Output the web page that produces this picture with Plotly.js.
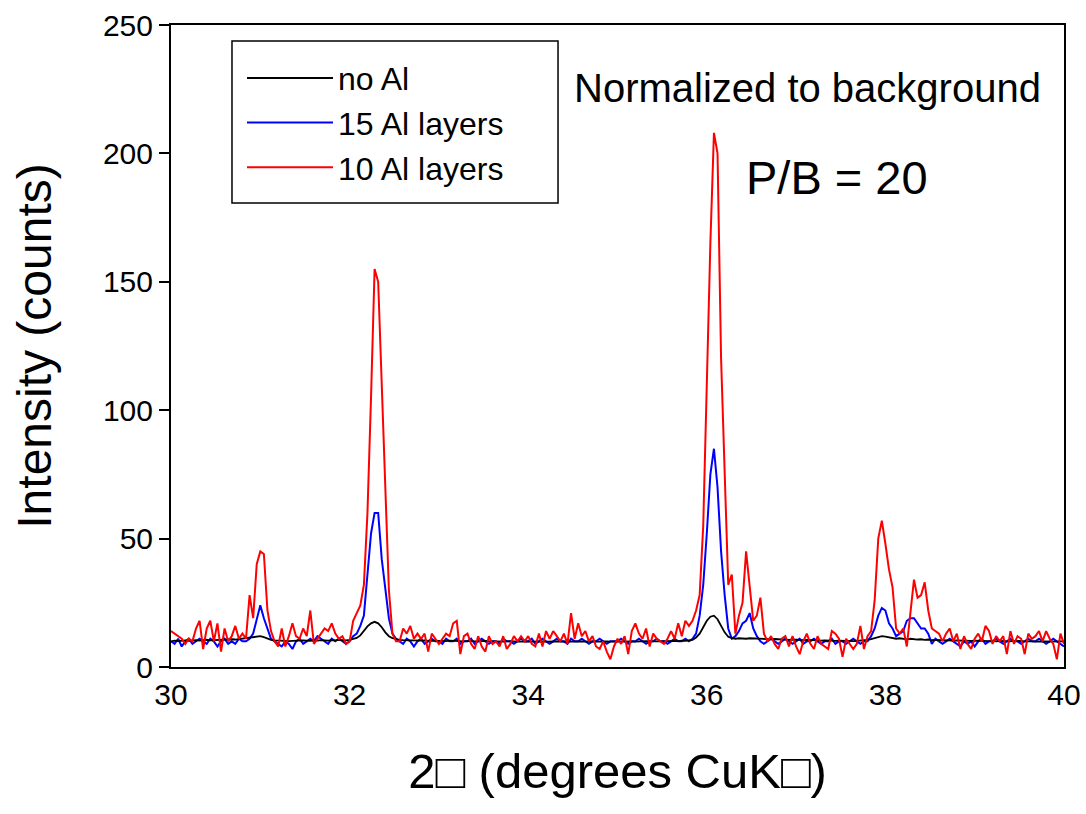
<!DOCTYPE html>
<html><head><meta charset="utf-8">
<script src="https://cdn.plot.ly/plotly-3.0.1.min.js"></script>
<style>html,body{margin:0;padding:0;background:#fff}#chart{width:1086px;height:814px}</style>
</head><body><div id="chart"></div>
<script>
// sampling grid: 2-theta from 30 to 40 deg, step 0.04
const startAngle = 30;
const stepAngle = 0.04;

const seriesNames = ["no Al", "15 Al layers", "10 Al layers"];
const seriesColors = ["#000000", "#0000ff", "#ff0000"];

const noAl = [
  10,10.3,10.1,10.2,10.4,10.2,10.3,10.5,10.3,10.4,10.6,10.4,10.5,10.6,10.5,10.7,10.6,10.8,10.7,10.9,11,11.2,11.5,11.8,12,
  12,11.6,11,10.6,10.4,10.3,10.2,10.3,10.1,10.2,10.3,10.2,10.4,10.3,10.2,10.4,10.3,10.5,10.4,10.3,10.5,10.4,10.6,10.5,10.4,
  10.6,11,11.3,12.3,14,15.8,17,17.6,17,15.5,13.5,12,11.2,10.8,10.6,10.5,10.4,10.5,10.3,10.4,10.3,10.4,10.2,10.3,10.2,
  10.3,10.2,10.1,10.3,10.2,10.1,10.2,10,10.1,10.2,10,10.1,10,10.2,10.1,10,10.1,10,9.9,10,10.1,10,9.9,10,10.1,
  10,9.9,10,10.1,10,9.9,10,10.1,10,9.9,10,10,9.9,10,10.1,10,9.9,10,10,9.9,10,10.1,10,9.9,10,
  10,9.9,10,10.1,10,9.9,10,10,10.1,10,9.9,10,10,10.1,10,10.1,10.2,10.1,10.3,10.2,10.4,10.6,11.5,13,15.5,
  18,19.6,20,18.6,16,13.5,11.8,11.2,11,11.2,11.1,11,11.2,11.1,11,10.9,11,10.9,10.8,10.9,10.8,10.7,10.8,10.6,10.7,
  10.6,10.7,10.5,10.6,10.5,10.4,10.5,10.3,10.4,10.3,10.4,10.2,10.3,10.2,10.3,10.2,10.1,10.2,10.3,10.4,10.6,10.9,11.3,11.8,12,
  11.8,11.5,11.2,11,11.2,11,10.8,11,10.8,10.7,10.8,10.6,10.7,10.5,10.6,10.5,10.4,10.5,10.4,10.3,10.4,10.3,10.2,10.3,10.2,
  10.3,10.2,10.1,10.2,10.1,10.2,10,10.1,10.2,10,10.1,10,10.1,10.2,10,10.1,10,9.9,10,10.1,10,9.9,10,10.1,10,
  10
];

const al15 = [
  10,9,11,8,10,11,9,10,11,10,9,11,10,8,10,11,9,10,9,11,10,10,11,13,19,
  24,19,15,11,10,9,8,10,9,7,10,11,9,10,11,10,12,11,10,9,11,10,11,10,9,
  10,12,13,16,20,35,52,60,60,42,30,19,13,11,10,9,11,10,8,10,11,9,10,11,10,
  10,9,11,10,10,11,9,10,10,11,9,10,11,10,9,10,10,9,11,10,10,9,10,11,10,
  10,11,9,10,11,10,9,10,11,10,10,9,11,10,10,11,10,9,10,10,11,10,9,10,10,
  10,11,10,9,10,10,11,10,9,10,10,11,10,10,9,10,11,10,10,11,10,11,13,20,32,
  52,75,85,70,45,28,15,11,12,14,17,18,21,15,12,10,9,10,11,10,9,10,11,10,9,
  10,11,9,10,10,11,10,9,10,10,11,9,10,10,9,10,11,10,9,10,10,12,15,20,23,
  22,17,15,12,13,14,18,19,19,17,15,15,13,9,11,10,9,10,11,10,9,8,10,9,10,
  8,10,11,9,10,10,11,10,9,10,11,10,10,9,10,11,10,10,11,10,9,10,11,10,9,
  8
];

const al10 = [
  14,13,12,11,9,11,10,15,18,7,15,18,10,17,6,15,10,12,16,11,13,11,28,19,40,
  45,44,22,14,10,8,15,8,12,17,12,11,15,12,22,9,11,13,15,14,17,13,11,12,9,
  10,18,21,24,32,60,105,155,150,110,62,30,13,10,10,15,13,16,11,13,11,13,6,13,11,
  9,11,13,12,17,18,5,12,13,9,7,12,8,6,12,9,10,8,12,7,9,12,10,12,10,
  12,9,8,13,8,14,11,14,12,10,13,9,21,11,17,12,14,10,12,8,7,10,6,3,8,
  11,9,12,5,14,17,13,11,15,8,13,11,10,9,11,14,11,17,12,18,16,18,22,28,55,
  115,165,208,200,120,80,32,36,13,20,25,45,30,18,20,27,13,10,12,9,7,11,12,8,12,
  8,5,10,13,9,7,12,9,8,7,14,13,11,4,11,9,7,9,16,7,12,14,26,50,57,
  48,38,31,15,13,15,8,22,34,27,28,33,22,15,14,13,10,13,15,10,13,7,12,9,7,
  11,13,10,16,14,9,12,10,12,5,14,9,12,11,5,13,11,12,14,10,14,11,9,3,13,
  9
];

const xTicks = [30, 32, 34, 36, 38, 40];
const yTicks = [0, 50, 100, 150, 200, 250];
const xRange = [30, 40];
const yRange = [0, 250];

const FONT = "Liberation Sans, Arial, sans-serif";

function mk(y, idx, width, rank) {
  return {
    type: "scatter", mode: "lines",
    x0: startAngle, dx: stepAngle, y: y,
    name: seriesNames[idx],
    line: {color: seriesColors[idx], width: width},
    legendrank: rank,
    hoverinfo: "skip"
  };
}

const traces = [
  mk(al15, 1, 2, 2),
  mk(noAl, 0, 1.8, 1),
  mk(al10, 2, 2, 3)
];

const tickFont = {family: FONT, size: 30, color: "#000"};

const layout = {
  width: 1086, height: 814,
  margin: {l: 171, r: 22, t: 25, b: 147},
  paper_bgcolor: "#fff", plot_bgcolor: "#fff",
  showlegend: true,
  legend: {
    x: 0.0795, y: 0.960, xanchor: "left", yanchor: "top",
    bgcolor: "rgba(0,0,0,0)", borderwidth: 0,
    font: {family: FONT, size: 32, color: "#000"},
    itemwidth: 86, tracegroupgap: 0
  },
  // labelled axis (labels sit right under the frame)
  xaxis: {
    range: xRange, tickvals: xTicks, ticktext: xTicks.map(String),
    showline: true, mirror: true, linecolor: "#000", linewidth: 2,
    ticks: "", showgrid: false, zeroline: false, tickfont: tickFont,
    title: {text: "2\u25A1 (degrees CuK\u25A1)", font: {family: FONT, size: 49, color: "#000"}, standoff: 44}
  },
  // tick marks of the x axis
  xaxis2: {
    overlaying: "x", anchor: "y", side: "bottom",
    range: xRange, tickvals: xTicks, showticklabels: false,
    ticks: "outside", ticklen: 10, tickwidth: 2, tickcolor: "#000",
    showline: false, showgrid: false, zeroline: false
  },
  yaxis: {
    range: yRange, tickvals: yTicks, ticktext: yTicks.map(String),
    showline: true, mirror: true, linecolor: "#000", linewidth: 2,
    ticks: "outside", ticklen: 10, tickwidth: 2, tickcolor: "#000",
    showgrid: false, zeroline: false, tickfont: tickFont,
    title: {text: "Intensity (counts)", font: {family: FONT, size: 48, color: "#000"}, standoff: 36}
  },
  shapes: [
    {type: "rect", xref: "paper", yref: "paper", x0: 0.0683, x1: 0.4334, y0: 0.7227, y1: 0.975,
     line: {color: "#000", width: 1.5}, fillcolor: "#fff", layer: "above"}
  ],
  annotations: [
    {xref: "paper", yref: "paper", x: 0.713, y: 0.902, xanchor: "center", yanchor: "middle",
     text: "Normalized to background", showarrow: false, font: {family: FONT, size: 40, color: "#000"}},
    {xref: "paper", yref: "paper", x: 0.746, y: 0.762, xanchor: "center", yanchor: "middle",
     text: "P/B = 20", showarrow: false, font: {family: FONT, size: 47, color: "#000"}}
  ]
};

Plotly.newPlot("chart", traces, layout, {staticPlot: true, displayModeBar: false});
</script>
</body></html>
